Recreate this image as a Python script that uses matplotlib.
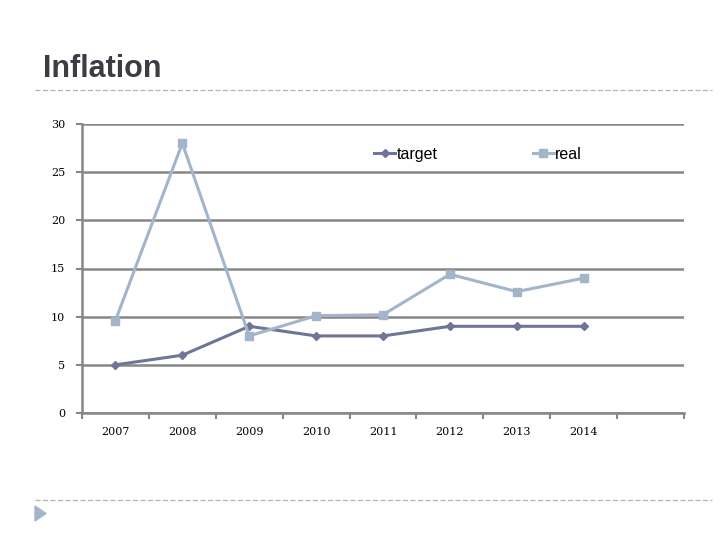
import matplotlib
matplotlib.use("Agg")
import matplotlib.pyplot as plt
from matplotlib.lines import Line2D
from matplotlib.patches import Polygon

years = ["2007", "2008", "2009", "2010", "2011", "2012", "2013", "2014"]
target = [5, 6, 9, 8, 8, 9, 9, 9]
real = [9.6, 28, 8, 10.1, 10.2, 14.4, 12.6, 14]

c_target = "#6e7598"
c_real = "#a2b5c9"
grid_c = "#878787"

fig = plt.figure(figsize=(7.2, 5.4), dpi=100)

# slide title and dashed rules
fig.text(43 / 720, 1 - 69 / 540, "Inflation", fontsize=22, color="#3c3c44",
         fontweight="bold", va="center", ha="left", family="Liberation Sans")
fig.add_artist(Line2D([35 / 720, 712 / 720], [1 - 90 / 540] * 2, color="#b0b4bc",
                      lw=0.9, ls=(0, (4, 2))))
fig.add_artist(Line2D([35 / 720, 712 / 720], [1 - 500 / 540] * 2, color="#b0b4bc",
                      lw=0.9, ls=(0, (4, 2))))
fig.add_artist(Polygon([[35 / 720, 1 - 506 / 540], [35 / 720, 1 - 521 / 540],
                        [46 / 720, 1 - 513.5 / 540]], closed=True,
                       color="#a2b5c9", transform=fig.transFigure))

ax = fig.add_axes([82 / 720, 1 - 413 / 540, (684 - 82) / 720, (413 - 124) / 540])
x = list(range(len(years)))
ax.plot(x, target, color=c_target, lw=2.2, marker="D", ms=4, label="target")
ax.plot(x, real, color=c_real, lw=2.2, marker="s", ms=6, label="real")

ax.set_xlim(-0.5, 8.5)
ax.set_ylim(0, 30)
ax.set_yticks(range(0, 31, 5))
ax.yaxis.grid(True, color=grid_c, lw=1.8)
ax.set_axisbelow(True)

ax.set_xticks([i - 0.5 for i in range(10)])
ax.set_xticklabels([])
ax.set_xticks(x, minor=True)
ax.set_xticklabels(years, minor=True, fontsize=8, family="DejaVu Serif")
ax.tick_params(axis="x", which="minor", length=0, pad=10)
ax.tick_params(axis="x", which="major", length=4, color=grid_c, width=1.5)
ax.tick_params(axis="y", length=4, color=grid_c, width=1.5, labelsize=8, pad=8)
for lab in ax.get_yticklabels():
    lab.set_family("DejaVu Serif")

for side in ["top", "right"]:
    ax.spines[side].set_visible(False)
for side in ["left", "bottom"]:
    ax.spines[side].set_color(grid_c)
    ax.spines[side].set_linewidth(1.8)

ax.legend(loc="upper left", bbox_to_anchor=(0.462, 0.97), ncol=2, frameon=False,
          handlelength=1.3, handletextpad=0.1, columnspacing=5.95,
          prop={"family": "Liberation Sans", "size": 11.5})

fig.savefig("out.png", dpi=100)
